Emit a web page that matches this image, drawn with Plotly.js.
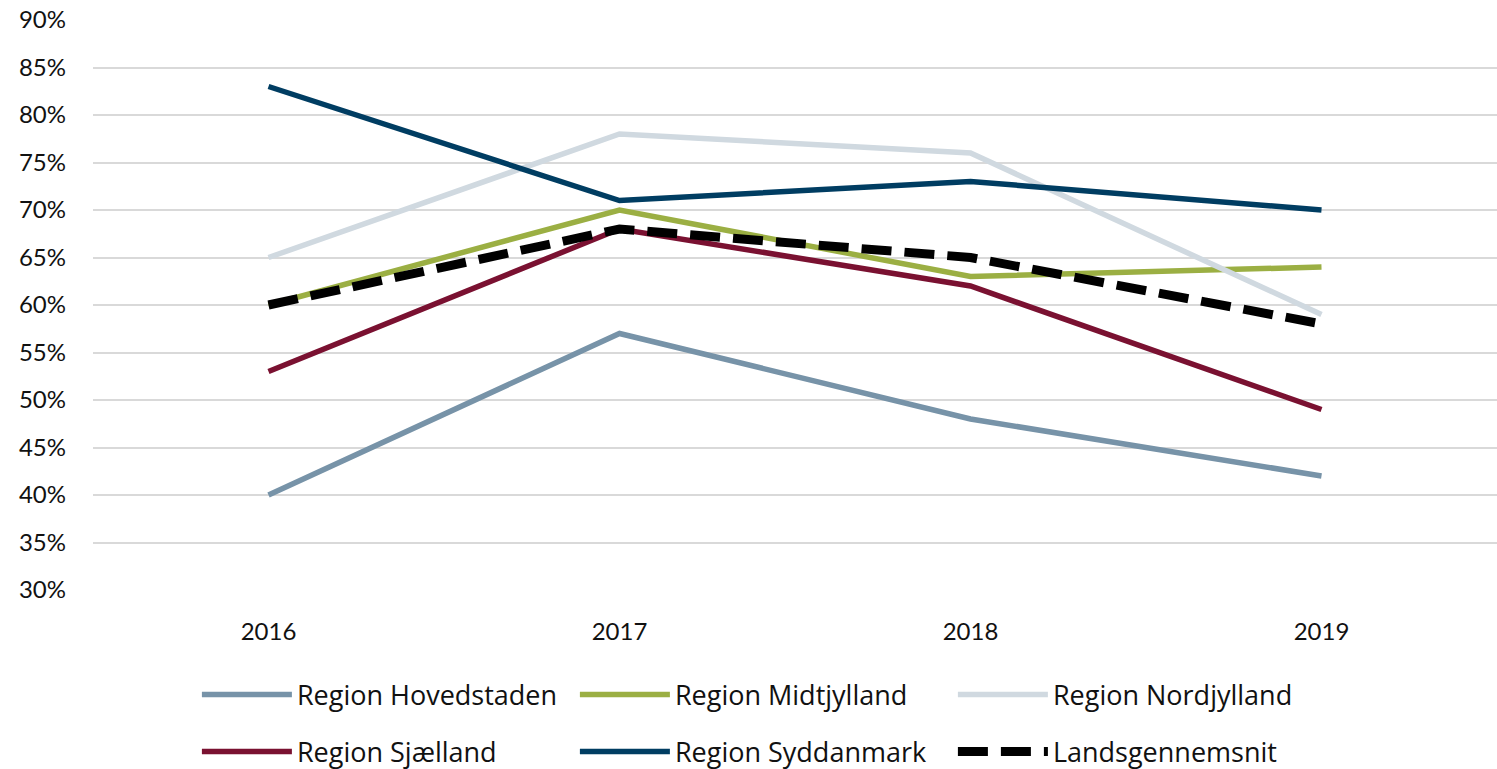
<!DOCTYPE html>
<html>
<head>
<meta charset="utf-8">
<script src="https://cdn.plot.ly/plotly-3.0.1.min.js"></script>
<style>html,body{margin:0;padding:0;background:#fff;}#chart{width:1497px;height:769px;}</style>
</head>
<body>
<div id="chart"></div>
<script>
const years = ["2016", "2017", "2018", "2019"];
const hovedstaden = [0.40, 0.57, 0.48, 0.42];
const midtjylland = [0.60, 0.70, 0.63, 0.64];
const nordjylland = [0.65, 0.78, 0.76, 0.59];
const sjaelland = [0.53, 0.68, 0.62, 0.49];
const syddanmark = [0.83, 0.71, 0.73, 0.70];
const landsgennemsnit = [0.60, 0.68, 0.65, 0.58];
const yTicks = [0.30, 0.35, 0.40, 0.45, 0.50, 0.55, 0.60, 0.65, 0.70, 0.75, 0.80, 0.85, 0.90];

const FONT = "Lato, 'Open Sans', sans-serif";
const LFONT = "'Open Sans', Lato, sans-serif";
function tr(name, y, color, width, leg, dash) {
  return {x: years, y: y, name: name, type: "scatter", mode: "lines", legend: leg,
    line: {color: color, width: width, dash: dash || "solid"}};
}
const data = [
  tr("Region Hovedstaden", hovedstaden, "#7793A8", 5.5, "legend"),
  tr("Region Midtjylland", midtjylland, "#9BAF43", 5.5, "legend"),
  tr("Region Nordjylland", nordjylland, "#D0D9E0", 5.5, "legend"),
  tr("Region Sjælland", sjaelland, "#7A1131", 5.5, "legend2"),
  tr("Region Syddanmark", syddanmark, "#003D62", 5.5, "legend2"),
  tr("Landsgennemsnit", landsgennemsnit, "#000000", 9, "legend2", "30px,13px")
];
const legBase = {orientation: "h", x: 0.074, xanchor: "left", yanchor: "middle",
  entrywidth: 273, entrywidthmode: "pixels", itemwidth: 90,
  font: {family: LFONT, size: 27, color: "#111"}, bgcolor: "rgba(0,0,0,0)"};
const layout = {
  width: 1497, height: 769,
  margin: {l: 93, r: 0, t: 20, b: 179, autoexpand: false},
  paper_bgcolor: "#fff", plot_bgcolor: "#fff",
  font: {family: FONT, size: 24, color: "#111"},
  showlegend: true,
  xaxis: {type: "category", range: [-0.5, 3.5], showgrid: false, zeroline: false,
    showline: false, ticks: "", ticklabelstandoff: 25, tickfont: {family: FONT, size: 24}},
  yaxis: {range: [0.30, 0.90], tickvals: yTicks, tickformat: ".0%", showgrid: true,
    gridcolor: "#D9D9D9", gridwidth: 2, zeroline: false, showline: false, ticks: "",
    ticklabelstandoff: 26, tickfont: {family: FONT, size: 24}},
  legend: Object.assign({}, legBase, {y: -0.184}),
  legend2: Object.assign({}, legBase, {y: -0.284})
};
Plotly.newPlot("chart", data, layout, {displayModeBar: false, staticPlot: true});
</script>
</body>
</html>
